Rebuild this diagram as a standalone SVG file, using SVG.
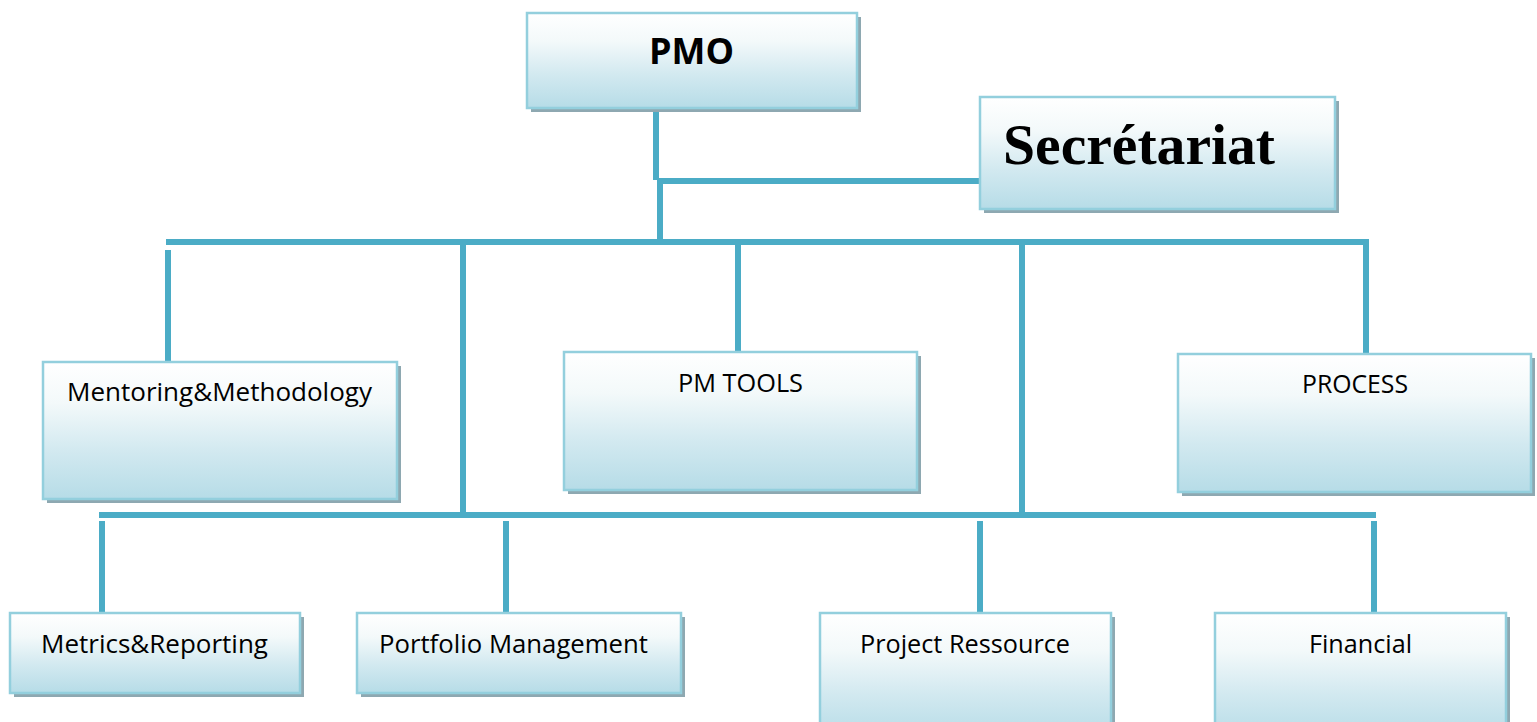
<svg xmlns="http://www.w3.org/2000/svg" width="1537" height="722" viewBox="0 0 1537 722">
<defs>
<linearGradient id="g" x1="0" y1="0" x2="0" y2="1">
<stop offset="0" stop-color="#ffffff"/>
<stop offset="0.3" stop-color="#f3f9fa"/>
<stop offset="0.65" stop-color="#d2e9f0"/>
<stop offset="1" stop-color="#b6dce7"/>
</linearGradient>
<style>
.sh{fill:#8ea8b1}
.bx{fill:url(#g);stroke:#93cfdd;stroke-width:2.5}
.t{font-family:"Open Sans","Noto Sans","Liberation Sans",sans-serif;font-size:26px;fill:#000}
.tb{font-family:"Open Sans","Liberation Sans",sans-serif;font-size:35px;font-weight:bold;fill:#000}
.ts{font-family:"Liberation Serif","Times New Roman",serif;font-size:58px;font-weight:bold;fill:#000}
.c{stroke:#4bacc6;stroke-width:6;fill:none}
</style>
</defs>
<rect width="1537" height="722" fill="#fff"/>
<g id="connectors">
<path class="c" d="M656 108 V180"/>
<path class="c" d="M660 178 V242"/>
<path class="c" d="M657 181 H981"/>
<path class="c" d="M166 242 H1369"/>
<path class="c" d="M168 250 V362"/>
<path class="c" d="M463 242 V515"/>
<path class="c" d="M738 242 V352"/>
<path class="c" d="M1022 242 V515"/>
<path class="c" d="M1366 242 V354"/>
<path class="c" d="M99 515 H1376"/>
<path class="c" d="M102 521 V613"/>
<path class="c" d="M506 521 V613"/>
<path class="c" d="M980 521 V613"/>
<path class="c" d="M1374 521 V613"/>
</g>
<g id="pmo">
<rect class="sh" x="531" y="17" width="330" height="95"/>
<rect class="bx" x="527" y="13" width="330" height="95"/>
<text class="tb" x="649" y="64" textLength="85" lengthAdjust="spacingAndGlyphs">PMO</text>
</g>
<g id="secretariat">
<rect class="sh" x="984" y="101" width="355" height="112"/>
<rect class="bx" x="980" y="97" width="355" height="112"/>
<text class="ts" x="1003" y="164" textLength="272" lengthAdjust="spacingAndGlyphs">Secrétariat</text>
</g>
<g id="mentoring">
<rect class="sh" x="47" y="366" width="354" height="137"/>
<rect class="bx" x="43" y="362" width="354" height="137"/>
<text class="t" x="67" y="401" textLength="305" lengthAdjust="spacingAndGlyphs">Mentoring&amp;Methodology</text>
</g>
<g id="pmtools">
<rect class="sh" x="568" y="356" width="353" height="138"/>
<rect class="bx" x="564" y="352" width="353" height="138"/>
<text class="t" x="678" y="392" textLength="125" lengthAdjust="spacingAndGlyphs">PM TOOLS</text>
</g>
<g id="process">
<rect class="sh" x="1182" y="358" width="353" height="138"/>
<rect class="bx" x="1178" y="354" width="353" height="138"/>
<text class="t" x="1302" y="393" textLength="106" lengthAdjust="spacingAndGlyphs">PROCESS</text>
</g>
<g id="metrics">
<rect class="sh" x="14" y="617" width="290" height="80"/>
<rect class="bx" x="10" y="613" width="290" height="80"/>
<text class="t" x="41" y="653" textLength="227" lengthAdjust="spacingAndGlyphs">Metrics&amp;Reporting</text>
</g>
<g id="portfolio">
<rect class="sh" x="361" y="617" width="324" height="80"/>
<rect class="bx" x="357" y="613" width="324" height="80"/>
<text class="t" x="379" y="653" textLength="269" lengthAdjust="spacingAndGlyphs">Portfolio Management</text>
</g>
<g id="ressource">
<rect class="sh" x="824" y="617" width="291" height="125"/>
<rect class="bx" x="820" y="613" width="291" height="125"/>
<text class="t" x="860" y="653" textLength="210" lengthAdjust="spacingAndGlyphs">Project Ressource</text>
</g>
<g id="financial">
<rect class="sh" x="1219" y="617" width="291" height="125"/>
<rect class="bx" x="1215" y="613" width="291" height="125"/>
<text class="t" x="1309" y="653" textLength="103" lengthAdjust="spacingAndGlyphs">Financial</text>
</g>
</svg>
